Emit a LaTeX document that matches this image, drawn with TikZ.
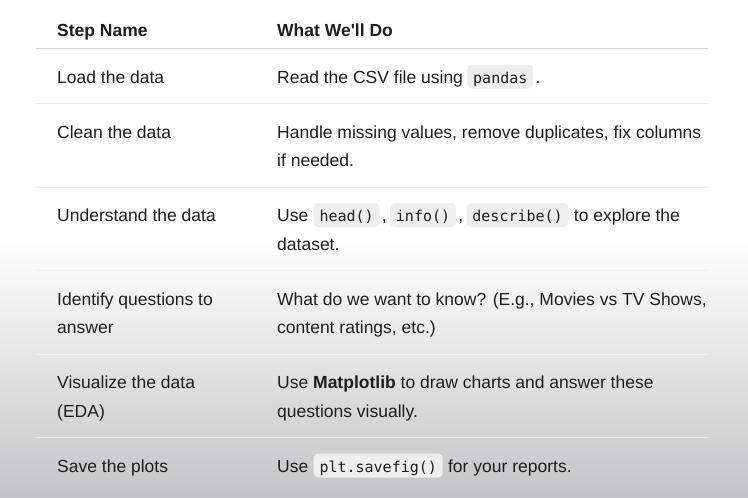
\documentclass[tikz,border=0pt]{standalone}
\usepackage{fontspec}
\setmainfont{Liberation Sans}
\newfontfamily\monof{DejaVu Sans Mono}
\definecolor{textc}{HTML}{1E1E1E}
\definecolor{codebg}{HTML}{EEEEEE}
\definecolor{hdrline}{HTML}{D2D2D2}
\definecolor{rowline}{HTML}{EAEAEA}
\definecolor{botgray}{HTML}{C4C4C6}
\tikzset{
  txt/.style={anchor=base west, inner sep=0pt, text=textc, font=\fontsize{17.5}{21}\selectfont},
  hdr/.style={txt, font=\fontsize{17.5}{21}\selectfont\bfseries},
  codebox/.style={anchor=base west, fill=codebg, rounded corners=4.5pt, inner xsep=5.8pt, inner ysep=0pt,
    text height=18.5pt, text depth=5.5pt, text=textc, font=\monof\fontsize{15}{18}\selectfont},
  hrule/.style={line width=1.6pt, draw=hdrline},
  rrule/.style={line width=1pt, draw=rowline},
  lrule/.style={line width=1pt, draw=white, draw opacity=0.45}
}
\begin{document}
\begin{tikzpicture}[x=1pt,y=-1pt]
\useasboundingbox (0,0) rectangle (748,498);
\fill[white] (0,0) rectangle (748,498);
\shade[top color=white, bottom color=botgray] (0,240) rectangle (748,498);
% rules
\coordinate (hl) at (36,48.5); \coordinate (hr) at (708,48.5);
\draw[hrule] (hl) -- (hr);
\coordinate (l1a) at (36,103); \coordinate (l1b) at (708,103);
\coordinate (l2a) at (36,187); \coordinate (l2b) at (708,187);
\coordinate (l3a) at (36,270); \coordinate (l3b) at (708,270);
\coordinate (l4a) at (36,354); \coordinate (l4b) at (708,354);
\coordinate (l5a) at (36,437.5); \coordinate (l5b) at (708,437.5);
\draw[rrule] (l1a) -- (l1b);
\draw[rrule] (l2a) -- (l2b);
\draw[rrule, draw=rowline!70!white] (l3a) -- (l3b);
\draw[lrule] (l4a) -- (l4b);
\draw[lrule] (l5a) -- (l5b);
% header
\node[hdr] (h1) at (57,36) {Step Name};
\node[hdr] (h2) at (277,36) {What We\textquotesingle ll Do};
% row 1
\node[txt] (s1) at (57,83) {Load the data};
\node[txt] (d1a) at (277,83) {Read the CSV file using};
\node[codebox] (c1) at ([xshift=4pt]d1a.base east) {pandas};
\node[txt] (d1b) at ([xshift=2pt]c1.base east) {.};
% row 2
\node[txt] (s2) at (57,138) {Clean the data};
\node[txt] (d2a) at (277,138) {Handle missing values, remove duplicates, fix columns};
\node[txt] (d2b) at (277,166.5) {if needed.};
% row 3
\node[txt] (s3) at (57,221.5) {Understand the data};
\node[txt] (d3a) at (277,221.5) {Use};
\node[codebox] (c3a) at ([xshift=5pt]d3a.base east) {head()};
\node[txt] (d3b) at ([xshift=2pt]c3a.base east) {,};
\node[codebox] (c3b) at ([xshift=3pt]d3b.base east) {info()};
\node[txt] (d3c) at ([xshift=2pt]c3b.base east) {,};
\node[codebox] (c3c) at ([xshift=3pt]d3c.base east) {describe()};
\node[txt] (d3d) at ([xshift=5pt]c3c.base east) {to explore the};
\node[txt] (d3e) at (277,250) {dataset.};
% row 4
\node[txt] (s4a) at (57,305) {Identify questions to};
\node[txt] (s4b) at (57,333) {answer};
\node[txt] (d4a) at (277,305) {What do we want to know? (E.g., Movies vs TV Shows,};
\node[txt] (d4b) at (277,333) {content ratings, etc.)};
% row 5
\node[txt] (s5a) at (57,388.5) {Visualize the data};
\node[txt] (s5b) at (57,417) {(EDA)};
\node[txt] (d5a) at (277,388.5) {Use \textbf{Matplotlib} to draw charts and answer these};
\node[txt] (d5b) at (277,417) {questions visually.};
% row 6
\node[txt] (s6) at (57,472) {Save the plots};
\node[txt] (d6a) at (277,472) {Use};
\node[codebox] (c6) at ([xshift=5pt]d6a.base east) {plt.savefig()};
\node[txt] (d6b) at ([xshift=5pt]c6.base east) {for your reports.};
\end{tikzpicture}
\end{document}
